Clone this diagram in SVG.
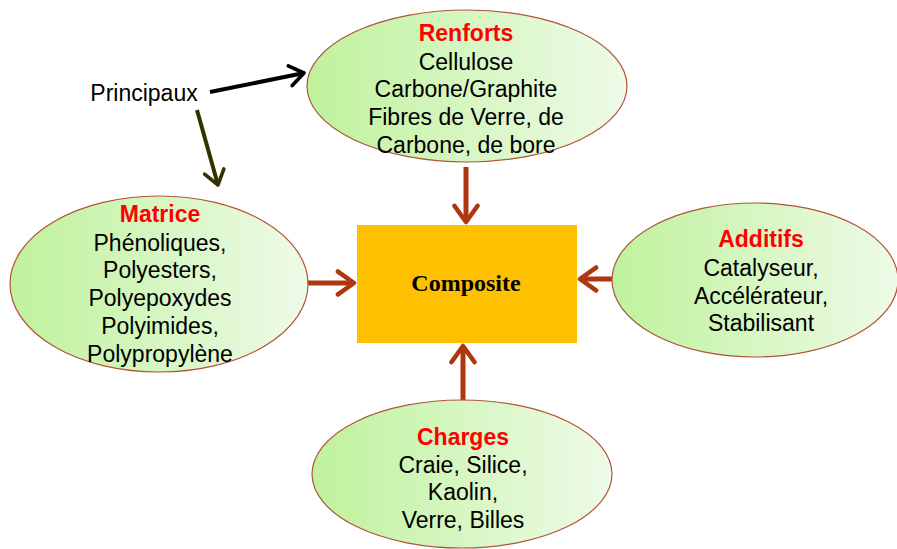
<svg xmlns="http://www.w3.org/2000/svg" width="897" height="549" viewBox="0 0 897 549">
<defs>
<linearGradient id="g" x1="0" y1="0" x2="1" y2="0">
<stop offset="0" stop-color="#bff29c"/>
<stop offset="1" stop-color="#eefbe8"/>
</linearGradient>
<marker id="ah" viewBox="0 0 12 12" refX="9" refY="6" markerWidth="5.5" markerHeight="5.5" orient="auto" markerUnits="strokeWidth">
<path d="M2,1 L9,6 L2,11" fill="none" stroke="#ac3711" stroke-width="2" stroke-linecap="round" stroke-linejoin="round"/>
</marker>
<marker id="ak" viewBox="0 0 12 12" refX="9" refY="6" markerWidth="6" markerHeight="6" orient="auto" markerUnits="strokeWidth">
<path d="M2,1 L9,6 L2,11" fill="none" stroke="#000" stroke-width="1.8" stroke-linecap="round" stroke-linejoin="round"/>
</marker>
<marker id="ao" viewBox="0 0 12 12" refX="9" refY="6" markerWidth="6" markerHeight="6" orient="auto" markerUnits="strokeWidth">
<path d="M2,1 L9,6 L2,11" fill="none" stroke="#333300" stroke-width="1.8" stroke-linecap="round" stroke-linejoin="round"/>
</marker>
</defs>
<style>
.el{fill:url(#g);stroke:#b0543a;stroke-width:1.2}
.t{font-family:"Liberation Sans",Arial,sans-serif;font-size:23px;fill:#000;text-anchor:middle}
.h{font-weight:bold;fill:#ff0000}
.c{stroke:#ac3711;stroke-width:5;fill:none;marker-end:url(#ah)}
</style>
<rect width="897" height="549" fill="#fff"/>
<g id="connectors">
<line class="c" x1="466" y1="167" x2="466" y2="222"/>
<line class="c" x1="299" y1="283" x2="354" y2="283"/>
<line class="c" x1="633" y1="279" x2="580" y2="279"/>
<line class="c" x1="463" y1="400" x2="463" y2="346"/>
<line x1="210" y1="92" x2="304" y2="73" stroke="#000" stroke-width="4" marker-end="url(#ak)"/>
<line x1="197" y1="110" x2="218" y2="185" stroke="#333300" stroke-width="4" marker-end="url(#ao)"/>
</g>
<g id="principaux">
<text class="t" x="144" y="101">Principaux</text>
</g>
<g id="renforts">
<ellipse class="el" cx="467" cy="86" rx="160" ry="76"/>
<text class="t h" x="466" y="41">Renforts</text>
<text class="t" x="466" y="70">Cellulose</text>
<text class="t" x="466" y="97">Carbone/Graphite</text>
<text class="t" x="466" y="125">Fibres de Verre, de</text>
<text class="t" x="466" y="153">Carbone, de bore</text>
</g>
<g id="matrice">
<ellipse class="el" cx="159" cy="284" rx="149" ry="88"/>
<text class="t h" x="160" y="222">Matrice</text>
<text class="t" x="160" y="251">Phénoliques,</text>
<text class="t" x="160" y="278">Polyesters,</text>
<text class="t" x="160" y="306">Polyepoxydes</text>
<text class="t" x="160" y="334">Polyimides,</text>
<text class="t" x="160" y="362">Polypropylène</text>
</g>
<g id="composite">
<rect x="357" y="225" width="220" height="118" fill="#ffc000"/>
<text x="466" y="291" font-family="'Liberation Serif','Times New Roman',serif" font-size="24" font-weight="bold" text-anchor="middle">Composite</text>
</g>
<g id="additifs">
<ellipse class="el" cx="755" cy="280" rx="143" ry="77"/>
<text class="t h" x="761" y="247">Additifs</text>
<text class="t" x="761" y="276">Catalyseur,</text>
<text class="t" x="761" y="304">Accélérateur,</text>
<text class="t" x="761" y="331">Stabilisant</text>
</g>
<g id="charges">
<ellipse class="el" cx="462" cy="474" rx="150" ry="74"/>
<text class="t h" x="463" y="445">Charges</text>
<text class="t" x="463" y="473">Craie, Silice,</text>
<text class="t" x="463" y="500">Kaolin,</text>
<text class="t" x="463" y="528">Verre, Billes</text>
</g>
</svg>
